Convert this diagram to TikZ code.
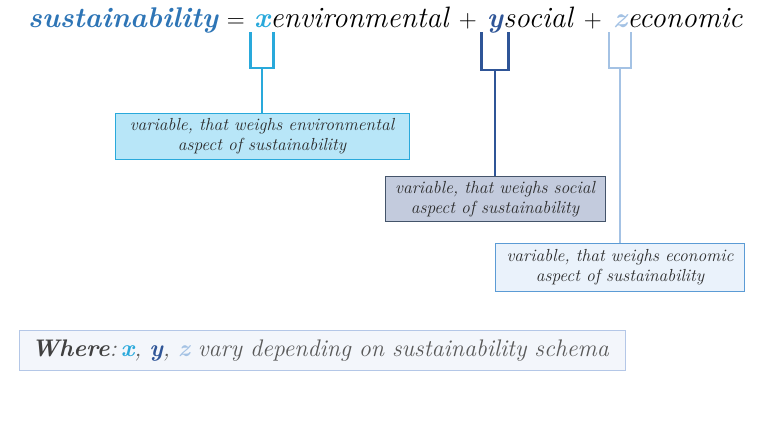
\documentclass[tikz,border=0pt]{standalone}
\usetikzlibrary{calc}
\definecolor{titleblue}{HTML}{2E75B6}
\definecolor{cx}{HTML}{29A9DB}
\definecolor{cy}{HTML}{2F5597}
\definecolor{cz}{HTML}{A4C2E4}
\definecolor{txt}{HTML}{2B2B2B}
\definecolor{bonefill}{HTML}{B8E6F8}
\definecolor{btwofill}{HTML}{C3CBDD}
\definecolor{btwodraw}{HTML}{44546A}
\definecolor{bthreefill}{HTML}{EAF2FB}
\definecolor{bthreedraw}{HTML}{5B9BD5}
\definecolor{wfill}{HTML}{F3F6FB}
\definecolor{wdraw}{HTML}{B4C7E7}
\tikzset{
  tpart/.style={inner sep=0pt, anchor=base west, font=\fontsize{29.5}{32}\selectfont\itshape},
  tbold/.style={tpart, font=\fontsize{28.5}{32}\selectfont\bfseries\itshape},
  tletter/.style={tbold, anchor=base},
  tsym/.style={inner sep=0pt, anchor=base, font=\fontsize{28}{32}\selectfont},
  varbox/.style={anchor=north, align=center, text=txt, inner sep=2pt,
     font=\fontsize{17.5}{20}\selectfont\itshape, line width=0.8pt},
  brk/.style={line width=2.8pt},
}
\begin{document}
\begin{tikzpicture}[x=1pt,y=-1pt]
\useasboundingbox (0,0) rectangle (768,437);
% title
\node[tbold, text=titleblue] (s) at (28,27) {sustainability};
\node[tletter, text=cx] (x) at (262,27) {x};
\node[tpart] (env) at (x.base east) {environmental};
\node[tletter, text=cy] (y) at (495,27) {y};
\node[tpart] (soc) at (y.base east) {social};
\node[tletter, text=cz] (z) at (620,27) {z};
\node[tpart] (eco) at (z.base east) {economic};
\node[tsym] (eq) at ($(s.base east)!0.5!(x.base west)$) {$=$};
\node[tsym] (p1) at ($(env.base east)!0.5!(y.base west)$) {$+$};
\node[tsym] (p2) at ($(soc.base east)!0.5!(z.base west)$) {$+$};
% brackets
\coordinate (xt) at ($(x.base)+(0,5)$);
\coordinate (xs) at ($(xt)+(0,36)$);
\draw[brk, cx] ($(xt)+(-11.5,0)$) -- ++(0,36) -- ++(23,0) -- ++(0,-36);
\coordinate (yt) at ($(y.base)+(0,5)$);
\coordinate (ys) at ($(yt)+(0,38)$);
\draw[brk, cy] ($(yt)+(-13.5,0)$) -- ++(0,38) -- ++(27,0) -- ++(0,-38);
\coordinate (zt) at ($(z.base)+(0,5)$);
\coordinate (zs) at ($(zt)+(0,36)$);
\draw[brk, cz] ($(zt)+(-11,0)$) -- ++(0,36) -- ++(22,0) -- ++(0,-36);
% boxes
\node[varbox, fill=bonefill, draw=cx, minimum width=294pt, minimum height=46pt] (b1) at ($(xs)+(0,45)$)
  {variable, that weighs environmental\\aspect of sustainability};
\node[varbox, fill=btwofill, draw=btwodraw, minimum width=220pt, minimum height=45pt] (b2) at ($(ys)+(0,106)$)
  {variable, that weighs social\\aspect of sustainability};
\node[varbox, fill=bthreefill, draw=bthreedraw, minimum width=249pt, minimum height=48pt] (b3) at ($(zs)+(0,175)$)
  {variable, that weighs economic\\aspect of sustainability};
\draw[brk, cx] (xs) -- (b1.north);
\draw[brk, cy] (ys) -- (b2.north);
\draw[brk, cz] (zs) -- (b3.north);
% where box
\node[anchor=north west, fill=wfill, draw=wdraw, line width=0.8pt, minimum width=606pt, minimum height=40pt,
  inner xsep=12pt, text width=582pt, font=\fontsize{24}{26}\selectfont\itshape, text=black!65] (w) at (19,330)
  {\textbf{\color{black!75}Where}:\,\textbf{\color{cx}x}, \textbf{\color{cy}y}, \textbf{\color{cz}z} vary depending on sustainability schema};
\end{tikzpicture}
\end{document}
